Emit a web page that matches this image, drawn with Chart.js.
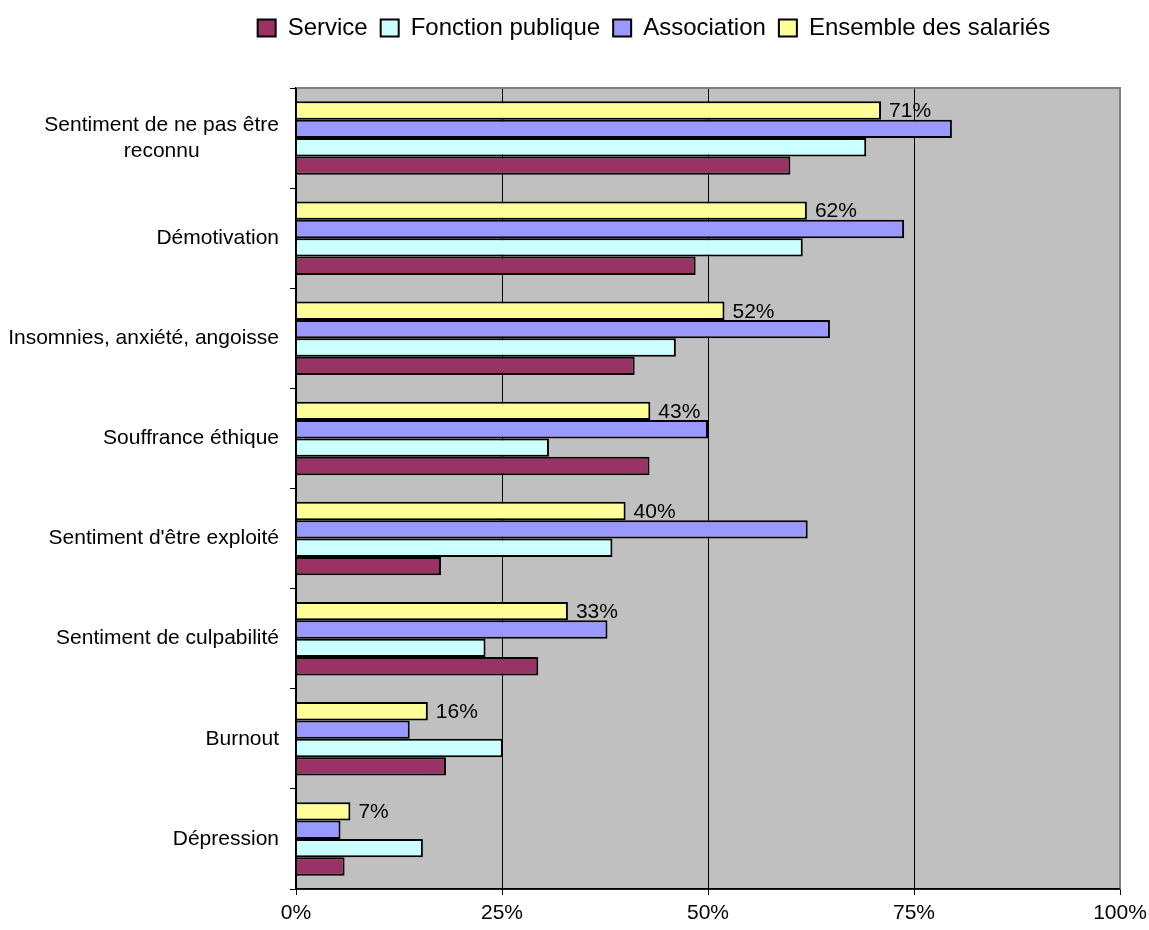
<!DOCTYPE html>
<html>
<head>
<meta charset="utf-8">
<script src="https://cdn.jsdelivr.net/npm/chart.js@4/dist/chart.umd.min.js"></script>
<style>
    html, body { margin: 0; padding: 0; background: #ffffff; }
    #wrap { width: 1149px; height: 930px; }
</style>
</head>
<body>
<div id="wrap"><canvas id="chart"></canvas></div>
<script>
const categories = [
    ["Sentiment de ne pas être", "reconnu"],
    "Démotivation",
    "Insomnies, anxiété, angoisse",
    "Souffrance éthique",
    "Sentiment d'être exploité",
    "Sentiment de culpabilité",
    "Burnout",
    "Dépression"
];

const ensembleValues = [71, 62, 52, 43, 40, 33, 16, 6.6]; // Ensemble des salariés
const associationValues = [79.6, 73.8, 64.8, 50, 62.1, 37.8, 13.8, 5.4];
const fonctionPubliqueValues = [69.2, 61.5, 46.1, 30.7, 38.4, 23, 25.1, 15.4];
const serviceValues = [60, 48.5, 41.1, 42.9, 17.6, 29.4, 18.2, 5.9];

const xTicks = [0, 25, 50, 75, 100];

const FONT = "Arial, 'Liberation Sans', sans-serif";

// grey plot background + frame, legend placement, value labels
const plotArea = {
    id: "plotArea",
    beforeInit(chart) {
        const legend = chart.legend;
        if (legend) {
            const origFit = legend.fit;
            legend.fit = function () {
                origFit.call(this);
                this.height = 88;
            };
        }
    },
    afterLayout(chart) {
        // Excel put the legend left of the plot centre
        const l = chart.legend;
        l.left -= 54;
        l.right -= 54;
        l.top += 3;
    },
    beforeDraw(chart) {
        const a = chart.chartArea;
        const ctx = chart.ctx;
        ctx.save();
        ctx.fillStyle = "#c0c0c0";
        ctx.fillRect(a.left, a.top, a.right - a.left, a.bottom - a.top);
        ctx.restore();
    },
    afterDatasetsDraw(chart) {
        const a = chart.chartArea;
        const ctx = chart.ctx;
        ctx.save();
        ctx.strokeStyle = "#808080";
        ctx.lineWidth = 2;
        ctx.beginPath();
        ctx.moveTo(a.left, a.top);
        ctx.lineTo(a.right, a.top);
        ctx.lineTo(a.right, a.bottom);
        ctx.stroke();
        ctx.strokeStyle = "#000000";
        ctx.lineWidth = 1.5;
        ctx.beginPath();
        ctx.moveTo(a.left, a.top);
        ctx.lineTo(a.left, a.bottom);
        ctx.lineTo(a.right, a.bottom);
        ctx.stroke();

        // value labels on the "Ensemble" bars only
        const meta = chart.getDatasetMeta(0);
        ctx.fillStyle = "#000000";
        ctx.font = "21px " + FONT;
        ctx.textAlign = "left";
        ctx.textBaseline = "middle";
        meta.data.forEach(function (bar, i) {
            ctx.fillText(Math.round(ensembleValues[i]) + "%", bar.x + 8, bar.y + 1);
        });

        // category labels: block right-aligned, lines centred inside the block (like Excel)
        const yScale = chart.scales.y;
        ctx.font = "21px " + FONT;
        ctx.textAlign = "center";
        categories.forEach(function (label, i) {
            const lines = Array.isArray(label) ? label : [label];
            const w = Math.max.apply(null, lines.map(function (t) { return ctx.measureText(t).width; }));
            const cx = yScale.right - 17 - w / 2;
            const cy = yScale.getPixelForTick(i);
            const lh = 26;
            lines.forEach(function (t, j) {
                ctx.fillText(t, cx, cy + (j - (lines.length - 1) / 2) * lh);
            });
        });
        ctx.restore();
    }
};

new Chart(document.getElementById("chart"), {
    type: "bar",
    data: {
        labels: categories,
        datasets: [{
            label: "Ensemble des salariés",
            data: ensembleValues,
            backgroundColor: "#ffff99",
            borderColor: "#000000",
            borderWidth: 2
        }, {
            label: "Association",
            data: associationValues,
            backgroundColor: "#9999ff",
            borderColor: "#000000",
            borderWidth: 2
        }, {
            label: "Fonction publique",
            data: fonctionPubliqueValues,
            backgroundColor: "#ccffff",
            borderColor: "#000000",
            borderWidth: 2
        }, {
            label: "Service",
            data: serviceValues,
            backgroundColor: "#993366",
            borderColor: "#000000",
            borderWidth: 2
        }]
    },
    options: {
        indexAxis: "y",
        responsive: true,
        maintainAspectRatio: false,
        animation: false,
        datasets: {
            bar: {
                categoryPercentage: 0.733,
                barPercentage: 1.0
            }
        },
        layout: {
            padding: { left: 0, right: 29, top: 0, bottom: 0 }
        },
        plugins: {
            tooltip: { enabled: false },
            legend: {
                position: "top",
                fullSize: false,
                reverse: true,
                labels: {
                    color: "#000000",
                    font: { family: FONT, size: 24 },
                    boxWidth: 18,
                    boxHeight: 17,
                    padding: 13
                }
            }
        },
        scales: {
            x: {
                min: 0,
                max: 100,
                afterBuildTicks(scale) {
                    scale.ticks = xTicks.map(function (v) { return { value: v }; });
                },
                afterFit(scale) {
                    scale.height = 41;
                    scale.paddingLeft = 0;
                    scale.paddingRight = 0;
                },
                ticks: {
                    color: "#000000",
                    font: { family: FONT, size: 21 },
                    padding: 6,
                    callback: function (v) { return v + "%"; }
                },
                grid: {
                    color: function (ctx) {
                        return ctx.tick && ctx.tick.value === 100 ? "#808080" : "#000000";
                    },
                    lineWidth: 1,
                    tickLength: 6,
                    tickColor: "#000000"
                },
                border: { color: "#000000", width: 1.5 }
            },
            y: {
                afterFit(scale) {
                    scale.width = 296;
                },
                ticks: {
                    display: false
                },
                grid: {
                    offset: true,
                    drawOnChartArea: false,
                    drawTicks: true,
                    tickLength: 6,
                    color: "#000000"
                },
                border: { color: "#000000", width: 1.5 }
            }
        }
    },
    plugins: [plotArea]
});
</script>
</body>
</html>
